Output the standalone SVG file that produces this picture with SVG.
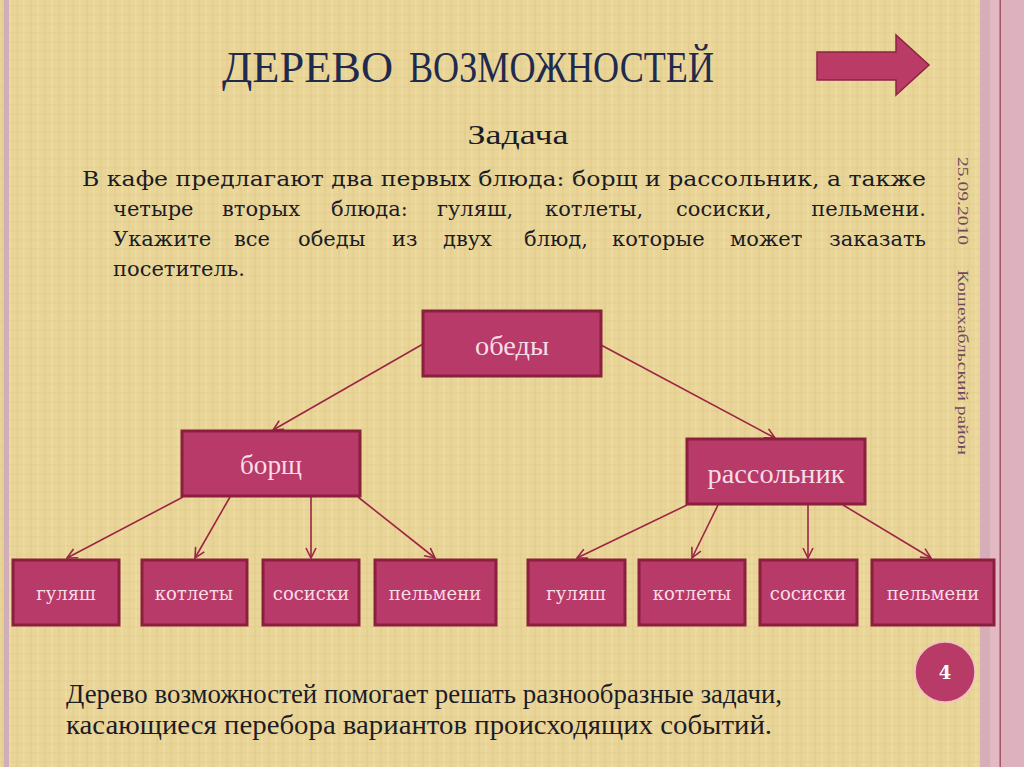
<svg xmlns="http://www.w3.org/2000/svg" width="1024" height="767" viewBox="0 0 1024 767">
<defs>
<pattern id="tex" width="14" height="9" patternUnits="userSpaceOnUse">
<rect width="14" height="9" fill="#E9D597"/>
<line x1="3" y1="0" x2="3" y2="9" stroke="#D8C283" stroke-width="1" opacity="0.6"/>
<line x1="10" y1="0" x2="10" y2="9" stroke="#F2E2AC" stroke-width="1" opacity="0.7"/>
<line x1="0" y1="6" x2="14" y2="6" stroke="#DCC58A" stroke-width="0.8" opacity="0.5"/>
</pattern>
<marker id="ah" viewBox="0 0 12 12" refX="11" refY="6" markerWidth="12" markerHeight="12" markerUnits="userSpaceOnUse" orient="auto">
<path d="M1,1 L11,6 L1,11" fill="none" stroke="#9C2547" stroke-width="1.6"/>
</marker>
</defs>
<style>
.box{fill:#B83A68;stroke:#8A1F3E;stroke-width:3}
.nt{fill:#F7DDE6;text-anchor:middle}
.conn line{stroke:#9C2547;stroke-width:1.6;marker-end:url(#ah)}
.txt{fill:#1C1C26}
.side{fill:#6E4A5E}
</style>

<!-- background -->
<rect x="0" y="0" width="1024" height="767" fill="url(#tex)"/>
<rect x="4" y="0" width="5" height="767" fill="#D2AFB8"/>
<rect x="980" y="0" width="44" height="767" fill="#DDB1BD"/>
<rect x="980" y="0" width="10" height="767" fill="#D6AEB8"/>
<rect x="990" y="0" width="9" height="767" fill="#E3BAC4"/>
<rect x="999.5" y="0" width="1.5" height="767" fill="#A3566E"/>

<!-- title -->
<g font-family="'Liberation Serif', serif" fill="#1F2B4E" font-size="45">
<text x="222" y="82" textLength="171" lengthAdjust="spacingAndGlyphs">ДЕРЕВО</text>
<text x="409" y="82" textLength="305" lengthAdjust="spacingAndGlyphs">ВОЗМОЖНОСТЕЙ</text>
</g>

<!-- block arrow -->
<polygon points="817,52 896,52 896,35 929,65 896,95 896,80 817,80" fill="#BA3C66" stroke="#8C2444" stroke-width="1.5"/>

<!-- task text -->
<g font-family="'DejaVu Serif', serif" font-size="21" class="txt">
<text x="518" y="144" text-anchor="middle" font-family="'Liberation Serif', serif" font-size="27" textLength="101" lengthAdjust="spacingAndGlyphs">Задача</text>
<text x="82" y="186" textLength="844" lengthAdjust="spacingAndGlyphs">В кафе предлагают два первых блюда: борщ и рассольник, а также</text>
<text y="216"><tspan x="113">четыре</tspan><tspan x="222">вторых</tspan><tspan x="331">блюда:</tspan><tspan x="437">гуляш,</tspan><tspan x="545">котлеты,</tspan><tspan x="676">сосиски,</tspan></text>
<text y="216" x="926" text-anchor="end">пельмени.</text>
<text y="246"><tspan x="113">Укажите</tspan><tspan x="234">все</tspan><tspan x="298">обеды</tspan><tspan x="392">из</tspan><tspan x="443">двух</tspan><tspan x="524">блюд,</tspan><tspan x="612">которые</tspan><tspan x="730">может</tspan></text>
<text y="246" x="926" text-anchor="end">заказать</text>
<text x="113" y="276">посетитель.</text>
</g>

<!-- connectors -->
<g id="connectors" class="conn">
<line x1="423" y1="344" x2="273" y2="430"/>
<line x1="601" y1="345" x2="775" y2="438"/>
<line x1="183" y1="497" x2="67" y2="558"/>
<line x1="230" y1="497" x2="195" y2="558"/>
<line x1="311" y1="497" x2="311" y2="558"/>
<line x1="358" y1="497" x2="435" y2="558"/>
<line x1="687" y1="505" x2="577" y2="558"/>
<line x1="718" y1="505" x2="692" y2="558"/>
<line x1="808" y1="505" x2="808" y2="558"/>
<line x1="843" y1="505" x2="931" y2="558"/>
</g>

<!-- nodes -->
<g font-family="'Liberation Serif', serif" font-size="27">
<g id="n-obedy"><rect class="box" x="423" y="311" width="178" height="65"/><text class="nt" x="512" y="355" textLength="74" lengthAdjust="spacingAndGlyphs">обеды</text></g>
<g id="n-borsch"><rect class="box" x="182" y="431" width="178" height="65"/><text class="nt" x="271" y="474" textLength="62" lengthAdjust="spacingAndGlyphs">борщ</text></g>
<g id="n-rassolnik"><rect class="box" x="687" y="439" width="178" height="65"/><text class="nt" x="776" y="483" textLength="137" lengthAdjust="spacingAndGlyphs">рассольник</text></g>
</g>

<g font-family="'DejaVu Serif', serif" font-size="18">
<g id="n-l1"><rect class="box" x="13" y="560" width="106" height="65"/><text class="nt" x="66" y="600">гуляш</text></g>
<g id="n-l2"><rect class="box" x="142" y="560" width="105" height="65"/><text class="nt" x="194" y="600">котлеты</text></g>
<g id="n-l3"><rect class="box" x="263" y="560" width="96" height="65"/><text class="nt" x="311" y="600">сосиски</text></g>
<g id="n-l4"><rect class="box" x="375" y="560" width="121" height="65"/><text class="nt" x="435" y="600">пельмени</text></g>
<g id="n-r1"><rect class="box" x="528" y="560" width="97" height="65"/><text class="nt" x="576" y="600">гуляш</text></g>
<g id="n-r2"><rect class="box" x="639" y="560" width="106" height="65"/><text class="nt" x="692" y="600">котлеты</text></g>
<g id="n-r3"><rect class="box" x="760" y="560" width="97" height="65"/><text class="nt" x="808" y="600">сосиски</text></g>
<g id="n-r4"><rect class="box" x="872" y="560" width="122" height="65"/><text class="nt" x="933" y="600">пельмени</text></g>
</g>

<!-- page number -->
<g id="page">
<circle cx="945" cy="672" r="30" fill="#B83A66" stroke="#F0C0C8" stroke-width="1.5"/>
<text x="945" y="679" font-family="'DejaVu Serif', serif" font-size="18" font-weight="bold" fill="#FFFFFF" text-anchor="middle">4</text>
</g>

<!-- side texts -->
<g font-family="'Liberation Serif', serif" font-size="15" class="side">
<text transform="translate(958,157) rotate(90)" textLength="88" lengthAdjust="spacingAndGlyphs">25.09.2010</text>
<text transform="translate(958,270) rotate(90)" textLength="185" lengthAdjust="spacingAndGlyphs">Кошехабльский район</text>
</g>

<!-- bottom text -->
<g font-family="'Liberation Serif', serif" font-size="27" class="txt">
<text x="66" y="703" textLength="716" lengthAdjust="spacingAndGlyphs">Дерево возможностей помогает решать разнообразные задачи,</text>
<text x="66" y="734" textLength="706" lengthAdjust="spacingAndGlyphs">касающиеся перебора вариантов происходящих событий.</text>
</g>
</svg>
